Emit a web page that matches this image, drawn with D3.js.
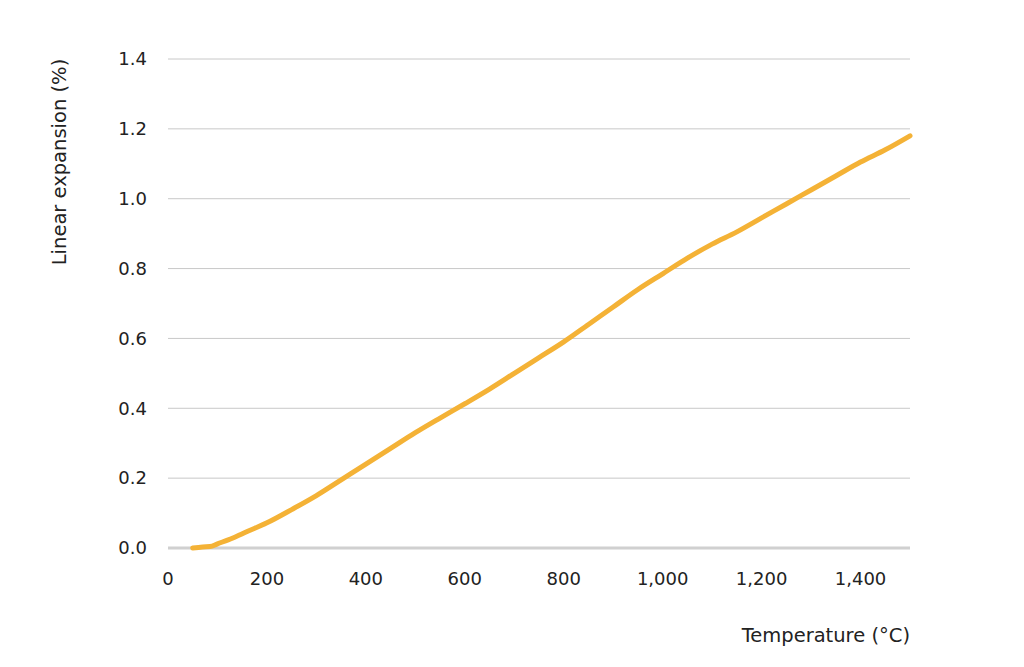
<!DOCTYPE html>
<html><head><meta charset="utf-8">
<script src="https://cdn.jsdelivr.net/npm/d3@7"></script>
<style>body{margin:0;background:#fff}svg{font-family:"DejaVu Sans",Verdana,sans-serif}</style>
</head><body>
<svg id="c" width="1024" height="667"></svg>
<script>
const temps = [50,70,85,100,130,160,200,250,300,350,400,450,500,550,600,650,700,750,800,850,900,950,1000,1050,1100,1150,1200,1250,1300,1350,1400,1450,1500];
const expansion = [0,0.003,0.004,0.012,0.028,0.047,0.072,0.11,0.15,0.195,0.24,0.285,0.33,0.372,0.413,0.455,0.5,0.545,0.59,0.64,0.69,0.74,0.785,0.83,0.87,0.905,0.945,0.985,1.025,1.065,1.105,1.14,1.18];
const yTicks = [0,0.2,0.4,0.6,0.8,1.0,1.2,1.4];
const xTicks = [0,200,400,600,800,1000,1200,1400];

const svg = d3.select("#c");
const x = d3.scaleLinear().domain([0,1500]).range([168,910]);
const y = d3.scaleLinear().domain([0,1.4]).range([548,59]);

svg.append("g").selectAll("line").data(yTicks.slice(1)).join("line")
  .attr("x1",168).attr("x2",910).attr("y1",d=>y(d)).attr("y2",d=>y(d))
  .attr("stroke","#c8c8c8").attr("stroke-width",1);
svg.append("line").attr("x1",168).attr("x2",910).attr("y1",y(0)).attr("y2",y(0))
  .attr("stroke","#d0d0d0").attr("stroke-width",3);

svg.append("g").selectAll("text").data(yTicks).join("text")
  .attr("x",147).attr("y",d=>y(d)).attr("dy","0.35em").attr("text-anchor","end")
  .attr("font-size",18).attr("fill","#222").text(d=>d3.format(".1f")(d));
svg.append("g").selectAll("text").data(xTicks).join("text")
  .attr("x",d=>x(d)).attr("y",585).attr("text-anchor","middle")
  .attr("font-size",18).attr("fill","#222").text(d=>d3.format(",")(d));

svg.append("text").attr("x",910).attr("y",642).attr("text-anchor","end")
  .attr("font-size",19.5).attr("fill","#222").text("Temperature (°C)");
svg.append("text").attr("transform","translate(66,162) rotate(-90)").attr("text-anchor","middle")
  .attr("font-size",19.5).attr("fill","#222").text("Linear expansion (%)");

const line = d3.line().x((d,i)=>x(temps[i])).y(d=>y(d)).curve(d3.curveMonotoneX);
svg.append("path").attr("d",line(expansion)).attr("fill","none")
  .attr("stroke","#F4B236").attr("stroke-width",5).attr("stroke-linecap","round");
</script>
</body></html>
